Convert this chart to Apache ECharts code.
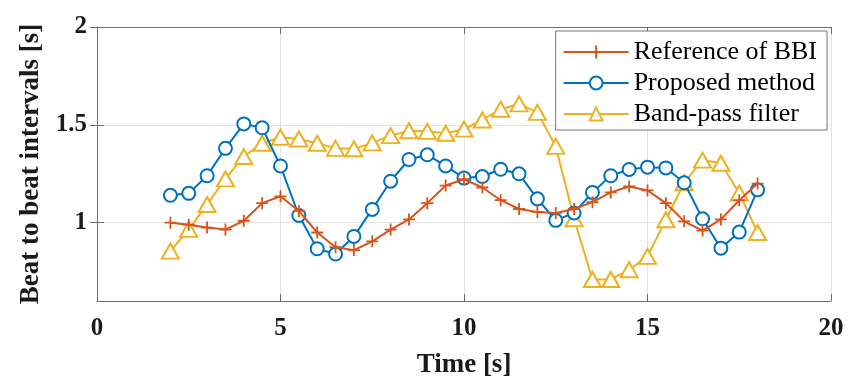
<!DOCTYPE html>
<html>
<head>
<meta charset="utf-8">
<script src="https://cdn.jsdelivr.net/npm/echarts@6/dist/echarts.min.js"></script>
<style>
html,body{margin:0;padding:0;background:#fff;}
#chart{width:867px;height:390px;}
</style>
</head>
<body>
<div id="chart"></div>
<script>
var times = [2,2.5,3,3.5,4,4.5,5,5.5,6,6.5,7,7.5,8,8.5,9,9.5,10,10.5,11,11.5,12,12.5,13,13.5,14,14.5,15,15.5,16,16.5,17,17.5,18];
var referenceBBI = [1.00,0.99,0.975,0.965,1.01,1.10,1.135,1.06,0.95,0.875,0.86,0.905,0.965,1.017,1.10,1.19,1.222,1.18,1.115,1.07,1.055,1.05,1.07,1.105,1.155,1.185,1.165,1.10,1.007,0.96,1.017,1.115,1.20];
var proposedMethod = [1.14,1.15,1.24,1.38,1.505,1.485,1.29,1.037,0.867,0.84,0.93,1.068,1.212,1.323,1.347,1.29,1.228,1.236,1.273,1.25,1.122,1.012,1.05,1.155,1.24,1.272,1.284,1.28,1.204,1.02,0.87,0.952,1.168];
var bandPassFilter = [0.855,0.966,1.093,1.224,1.338,1.406,1.437,1.428,1.406,1.38,1.378,1.408,1.445,1.47,1.467,1.457,1.478,1.525,1.58,1.607,1.564,1.39,1.02,0.71,0.71,0.76,0.828,1.015,1.204,1.32,1.304,1.151,0.95];
var seriesNames = ['Reference of BBI','Proposed method','Band-pass filter'];
var xTicks = [0,5,10,15,20];
var yTicks = [1,1.5,2];

function pairs(ys){ return times.map(function(t,i){ return [t, ys[i]]; }); }

var red = '#D95319', blue = '#0072BD', yellow = '#EDB120';
var axisColor = '#6e6e6e';
var labelFont = {fontFamily:'Liberation Serif', fontWeight:'bold', fontSize:25, color:'#1a1a1a'};

var chart = echarts.init(document.getElementById('chart'), null, {renderer:'canvas'});
chart.setOption({
  animation:false,
  backgroundColor:'#fff',
  grid:{left:97, right:36, top:27, bottom:89, containLabel:false},
  legend:{
    orient:'vertical', right:40, top:31,
    itemWidth:65, itemHeight:16, itemGap:5,
    padding:[8,10,3,7],
    backgroundColor:'#fff', borderColor:'#777', borderWidth:1,
    textStyle:{fontFamily:'Liberation Serif', fontSize:26, color:'#000'},
    data:seriesNames
  },
  xAxis:[{
    type:'value', min:0, max:20, interval:5,
    name:'Time [s]', nameLocation:'middle', nameGap:51,
    nameTextStyle:{fontFamily:'Liberation Serif', fontWeight:'bold', fontSize:27, color:'#1a1a1a'},
    axisLine:{show:true, lineStyle:{color:axisColor, width:1}},
    axisTick:{show:true, inside:true, length:7, lineStyle:{color:axisColor}},
    axisLabel:Object.assign({margin:15, customValues:xTicks}, labelFont),
    splitLine:{show:true, lineStyle:{color:'#e3e3e3', width:1}}
  },{
    type:'value', min:0, max:20, interval:5, position:'top',
    axisLine:{show:true, lineStyle:{color:axisColor, width:1}},
    axisTick:{show:true, inside:true, length:7, lineStyle:{color:axisColor}},
    axisLabel:{show:false}, splitLine:{show:false}
  }],
  yAxis:[{
    type:'value', min:0.6, max:2,
    name:'Beat to beat intervals [s]', nameLocation:'middle', nameGap:50,
    nameTextStyle:{fontFamily:'Liberation Serif', fontWeight:'bold', fontSize:27, color:'#1a1a1a'},
    axisLine:{show:true, lineStyle:{color:axisColor, width:1}},
    axisTick:{show:true, inside:true, length:7, customValues:yTicks, lineStyle:{color:axisColor}},
    axisLabel:Object.assign({margin:10, customValues:yTicks}, labelFont),
    splitLine:{show:true, lineStyle:{color:'#e3e3e3', width:1}}
  },{
    type:'value', min:0.6, max:2, position:'right',
    axisLine:{show:true, lineStyle:{color:axisColor, width:1}},
    axisTick:{show:true, inside:true, length:7, customValues:yTicks, lineStyle:{color:axisColor}},
    axisLabel:{show:false}, splitLine:{show:false}
  }],
  series:[{
    name:seriesNames[0], type:'line', data:pairs(referenceBBI),
    symbol:'path://M5,0L5,10M0,5L10,5', symbolSize:12,
    lineStyle:{color:red, width:2},
    itemStyle:{color:red, borderColor:red, borderWidth:1.8},
    z:4
  },{
    name:seriesNames[1], type:'line', data:pairs(proposedMethod),
    symbol:'emptyCircle', symbolSize:13,
    lineStyle:{color:blue, width:2},
    itemStyle:{color:blue, borderColor:blue, borderWidth:2},
    z:3
  },{
    name:seriesNames[2], type:'line', data:pairs(bandPassFilter),
    symbol:'emptyTriangle', symbolSize:[17,15],
    lineStyle:{color:yellow, width:2},
    itemStyle:{color:yellow, borderColor:yellow, borderWidth:2},
    z:2
  }]
});
</script>
</body>
</html>
